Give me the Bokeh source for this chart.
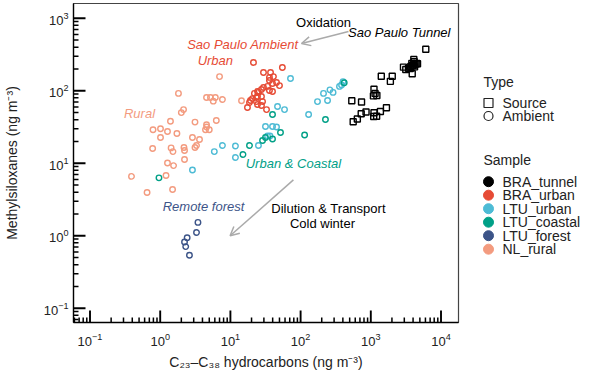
import math
from bokeh.plotting import figure
from bokeh.models import Range1d, Arrow, OpenHead, Label
from bokeh.layouts import row
from bokeh.embed import file_html
from bokeh.resources import INLINE
from bokeh.core.properties import value

FONT = "Liberation Sans"

samples = ["BRA_tunnel", "BRA_urban", "LTU_urban", "LTU_coastal", "LTU_forest", "NL_rural"]
colors = ["#000000", "#E64B35", "#4DBBD5", "#00A087", "#3C5488", "#F39B7F"]
types = ["Source", "Ambient"]

# C23-C38 hydrocarbons (x) and methylsiloxanes (y), ng m-3
bra_tunnel_x = [6070, 4100, 3840, 4060, 4290, 4520, 3710, 4150, 3930, 4200,
                3640, 2920, 3150, 3440, 3890, 4630, 1410, 2020, 1900, 1110,
                1150, 1220, 1090, 536, 738, 1670, 1370, 1110, 1100, 1210,
                855, 730, 643, 561]
bra_tunnel_y = [375, 270, 238, 225, 233, 238, 216, 251, 223, 214,
                203, 212, 197, 205, 172, 236, 159, 159, 135, 105,
                92, 86, 85, 72.8, 70.1, 58.3, 51.8, 49.7, 44.2, 44.5,
                51, 48.3, 40.8, 37.4]

bra_urban_x = [21.3, 55, 29.6, 37.3, 36, 41, 36, 45.4, 39.8, 50,
               33.8, 29.6, 27.7, 36, 39.8, 24.3, 22, 25.1, 24.3, 27.7,
               20.6, 23.5, 19.3, 23.5, 28.7, 18.7, 24.3, 27.7, 32.7, 17.5]
bra_urban_y = [246, 210, 179, 179, 153, 157, 139, 130, 126, 118,
               115, 111, 104, 101, 98, 98, 92, 95, 83.5, 83.5,
               78, 81, 73.5, 71, 71, 69, 64.7, 62.7, 55, 58.9]

ltu_urban_x = [2.88, 5.9, 7.7, 11.8, 11.8, 25.1, 31.6, 33.8, 36.6, 39.8,
               45.4, 46.9, 59, 71.8, 130, 174, 212, 242, 262, 290,
               358, 383, 402]
ltu_urban_y = [8.1, 14.5, 17.6, 17.3, 12.0, 17.6, 32.2, 23.8, 23.8, 32.2,
               31.7, 60.7, 55, 148, 47.1, 71, 92, 73.5, 103, 95,
               115, 120, 134]

ltu_coastal_x = [0.96, 15.1, 18.7, 28.7, 31.6, 39.8, 39.8, 51.7, 114, 226, 418]
ltu_coastal_y = [6.3, 13.2, 17.6, 20.6, 22.7, 47.1, 21.6, 26.6, 24.6, 40.2, 129]

ltu_forest_x = [3.45, 3.29, 2.42, 2.22, 2.31, 2.61]
ltu_forest_y = [1.53, 1.11, 0.94, 0.82, 0.71, 0.54]

nl_rural_x = [7.0, 1.82, 4.57, 5.2, 5.7, 6.1, 7.7, 2.15, 2.0, 1.40,
              3.13, 4.57, 4.6, 4.42, 5.0, 6.3, 0.79, 1.01, 1.27, 1.73,
              1.01, 2.88, 3.63, 3.29, 3.13, 0.78, 1.43, 1.52, 2.18, 2.22,
              2.22, 1.27, 1.55, 0.39, 1.21, 0.65, 1.50, 14.4]
nl_rural_y = [157, 92, 81, 81, 72, 81, 76, 55, 50, 38,
              37, 34, 31.7, 29, 29, 39, 29, 30, 27.5, 25.8,
              22.7, 22.7, 21.3, 17.6, 16.5, 16.0, 16.3, 14.5, 16.5, 15.0,
              11.3, 10.1, 9.3, 6.6, 6.8, 3.96, 4.35, 73]

XLO, XHI = 0.0582, 17750
YLO, YHI = 0.0637, 1600
FW, FH = 385, 319
BL, BT = 72, 3
p = figure(frame_width=FW, frame_height=FH, x_axis_type="log", y_axis_type="log",
           x_range=Range1d(XLO, XHI), y_range=Range1d(YLO, YHI),
           output_backend="svg", toolbar_location=None,
           min_border_left=BL, min_border_right=5, min_border_top=BT, min_border_bottom=10)
p.grid.visible = False
p.outline_line_color = "#444444"
p.outline_line_width = 1.2

for ax in (p.xaxis[0], p.yaxis[0]):
    ax.major_tick_in = 0
    ax.major_tick_out = 0
    ax.minor_tick_in = 0
    ax.minor_tick_out = 0
    ax.axis_line_color = "#000000"
    ax.axis_line_width = 1.3
    ax.major_label_text_font = FONT
    ax.major_label_text_font_size = "13px"
    ax.major_label_text_color = "#222222"
    ax.axis_label_text_font = FONT
    ax.axis_label_text_font_size = "14px"
    ax.axis_label_text_font_style = "normal"
    ax.axis_label_text_color = "#222222"

p.xaxis.axis_label = "C\u2082\u2083\u2013C\u2083\u2088 hydrocarbons (ng m\u207b\u00b3)"
p.yaxis.axis_label = "Methylsiloxanes (ng m\u207b\u00b3)"
p.yaxis.major_label_standoff = 5
p.yaxis.axis_label_standoff = 21
p.xaxis.major_label_standoff = 10
p.xaxis.axis_label_standoff = 5

# inward ticks drawn along the frame edges
ppd_x = FW / math.log10(XHI / XLO)
ppd_y = FH / math.log10(YHI / YLO)
def log_ticks(lo, hi):
    major, minor = [], []
    for k in range(math.floor(math.log10(lo)) - 1, math.ceil(math.log10(hi)) + 1):
        for m in range(1, 10):
            v = m * 10.0 ** k
            if lo < v < hi:
                (major if m == 1 else minor).append(v)
    return major, minor

xmaj, xmin = log_ticks(XLO, XHI)
ymaj, ymin = log_ticks(YLO, YHI)
for ticks, L, w in ((xmaj, 12, 1.9), (xmin, 5, 1.5)):
    p.segment(x0=ticks, y0=[YLO] * len(ticks), x1=ticks,
              y1=[YLO * 10 ** (L / ppd_y)] * len(ticks), line_color="#000000", line_width=w)
for ticks, L, w in ((ymaj, 12, 1.9), (ymin, 5, 1.5)):
    p.segment(x0=[XLO] * len(ticks), y0=ticks, x1=[XLO * 10 ** (L / ppd_x)] * len(ticks),
              y1=ticks, line_color="#000000", line_width=w)

series = [
    (bra_tunnel_x, bra_tunnel_y, "square"),
    (bra_urban_x, bra_urban_y, "circle"),
    (ltu_urban_x, ltu_urban_y, "circle"),
    (ltu_coastal_x, ltu_coastal_y, "circle"),
    (ltu_forest_x, ltu_forest_y, "circle"),
    (nl_rural_x, nl_rural_y, "circle"),
]
for (xs, ys, mk), c in zip(series, colors):
    p.scatter(xs, ys, marker=mk, size=6 if mk == "square" else 5.5,
              fill_color=None, line_color=c, line_width=1.4)

gray = "#aaaaaa"
p.add_layout(Arrow(end=OpenHead(size=9, line_color=gray, line_width=1.5),
                   x_start=481, y_start=658, x_end=103, y_end=449,
                   line_color=gray, line_width=1.5))
p.add_layout(Arrow(end=OpenHead(size=9, line_color=gray, line_width=1.5),
                   x_start=79, y_start=5.9, x_end=9.9, y_end=1.0,
                   line_color=gray, line_width=1.5))

def lab(x, y, text, color="#000000", italic=False, align="center"):
    p.add_layout(Label(x=x, y=y, text=text, text_color=color, text_font=FONT,
                       text_font_size="13px", text_align=align, text_baseline="middle",
                       text_font_style="italic" if italic else "normal"))

lab(212, 875, "Oxidation")
lab(13650, 637, "Sao Paulo Tunnel", italic=True, align="right")
lab(93.3, 435, "Sao Paulo Ambient", colors[1], True, "right")
lab(6.1, 258, "Urban", colors[1], True)
lab(0.507, 49.4, "Rural", colors[5], True)
lab(79, 9.9, "Urban & Coastal", colors[3], True)
lab(4.14, 2.5, "Remote forest", colors[4], True)
lab(250, 2.38, "Dilution & Transport")
lab(205, 1.48, "Cold winter")

# legend panel, in on-screen pixel coordinates
X0 = 3 + BL + FW + 5
Y0 = 3.5
LW = 120
lg = figure(frame_width=LW, frame_height=FH, x_range=Range1d(X0, X0 + LW), y_range=Range1d(Y0 + FH, Y0),
            output_backend="svg", toolbar_location=None, min_border=0, min_border_top=BT,
            x_axis_location=None, y_axis_location=None, outline_line_color=None)
lg.grid.visible = False
tf = value(FONT)
fs = value("14px")
lg.text(x=[485], y=[82], text=["Type"], text_font=tf, text_font_size=fs,
        text_baseline="middle", text_color="#222222")
lg.scatter(x=[490], y=[103], marker="square", size=9, fill_color=None, line_color="#222222", line_width=1.2)
lg.scatter(x=[490], y=[116], marker="circle", size=9, fill_color=None, line_color="#222222", line_width=1.2)
lg.text(x=[504, 504], y=[103, 116], text=types, text_font=tf, text_font_size=fs,
        text_baseline="middle", text_color="#222222")
lg.text(x=[485], y=[160], text=["Sample"], text_font=tf, text_font_size=fs,
        text_baseline="middle", text_color="#222222")
sy = [181.7 + 13.5 * i for i in range(len(samples))]
lg.scatter(x=[490] * len(samples), y=sy, marker="circle", size=10, fill_color=colors, line_color=colors)
lg.text(x=[504] * len(samples), y=sy, text=samples, text_font=tf, text_font_size=fs,
        text_baseline="middle", text_color="#222222")

layout = row(p, lg)
open("out.html", "w").write(file_html(layout, INLINE))
